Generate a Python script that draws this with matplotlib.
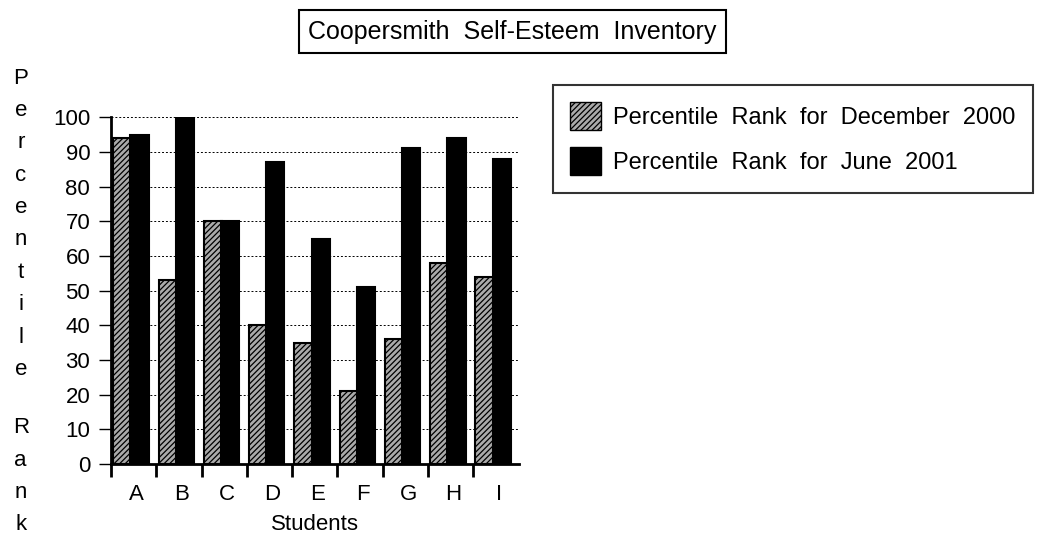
import matplotlib.pyplot as plt
from matplotlib.patches import Patch

students = ["A", "B", "C", "D", "E", "F", "G", "H", "I"]
dec_2000 = [94, 53, 70, 40, 35, 21, 36, 58, 54]
jun_2001 = [95, 100, 70, 87, 65, 51, 91, 94, 88]
yticks = [0, 10, 20, 30, 40, 50, 60, 70, 80, 90, 100]

plt.rcParams['font.family'] = ['Liberation Sans', 'DejaVu Sans']
plt.rcParams['hatch.color'] = '#454545'
plt.rcParams['hatch.linewidth'] = 0.9

fig = plt.figure(figsize=(10.37, 5.5), dpi=100)
ax = fig.add_axes([0.107, 0.156, 0.393, 0.631])

x = list(range(len(students)))
ax.bar([i - 0.25 for i in x], dec_2000, width=0.4, facecolor='#aaaaaa',
       edgecolor='black', linewidth=1.5, hatch='//////', zorder=3)
ax.bar([i + 0.13 for i in x], jun_2001, width=0.4, facecolor='black',
       edgecolor='black', linewidth=1.5, zorder=4)

ax.set_xlim(-0.5, 8.5)
ax.set_ylim(0, 100)
ax.set_yticks(yticks)
ax.set_yticklabels([str(v) for v in yticks], fontsize=16)
ax.yaxis.grid(True, linestyle=(0, (2, 2)), color='black', linewidth=0.7)
ax.set_axisbelow(True)
ax.tick_params(axis='y', direction='out', length=9, width=1, pad=6)

ax.set_xticks([i + 0.06 for i in x])
ax.set_xticklabels(students, fontsize=16)
ax.set_xticks([i - 0.5 for i in range(len(students))], minor=True)
ax.tick_params(axis='x', which='major', length=0, pad=14)
ax.tick_params(axis='x', which='minor', direction='out', length=9, width=2)

for s in ['top', 'right']:
    ax.spines[s].set_visible(False)
ax.spines['left'].set_linewidth(2)
ax.spines['bottom'].set_linewidth(2)

ax.set_xlabel("Students", fontsize=16, labelpad=7)

# stacked vertical y label
ypos = 1 - 78 / 550
for ch in "Percentile Rank":
    if ch == " ":
        ypos -= 0.047
        continue
    fig.text(0.02, ypos, ch, fontsize=16, ha='center', va='center')
    ypos -= 0.0589

fig.text(0.494, 0.942, "Coopersmith  Self-Esteem  Inventory", fontsize=18,
         ha='center', va='center',
         bbox=dict(boxstyle='square,pad=0.38', facecolor='white',
                   edgecolor='black', linewidth=1.5))

handles = [Patch(facecolor='#aaaaaa', edgecolor='black', hatch='//////'),
           Patch(facecolor='black', edgecolor='black')]
leg = fig.legend(handles, ["Percentile  Rank  for  December  2000",
                           "Percentile  Rank  for  June  2001"],
                 loc='upper left', bbox_to_anchor=(0.533, 0.846),
                 borderaxespad=0, fontsize=17, frameon=True, fancybox=False,
                 handlelength=1.3, handleheight=1.45, handletextpad=0.5,
                 labelspacing=0.7, borderpad=0.75)
leg.get_frame().set_edgecolor('black')
leg.get_frame().set_linewidth(1.5)

fig.savefig("out.png", dpi=100)
